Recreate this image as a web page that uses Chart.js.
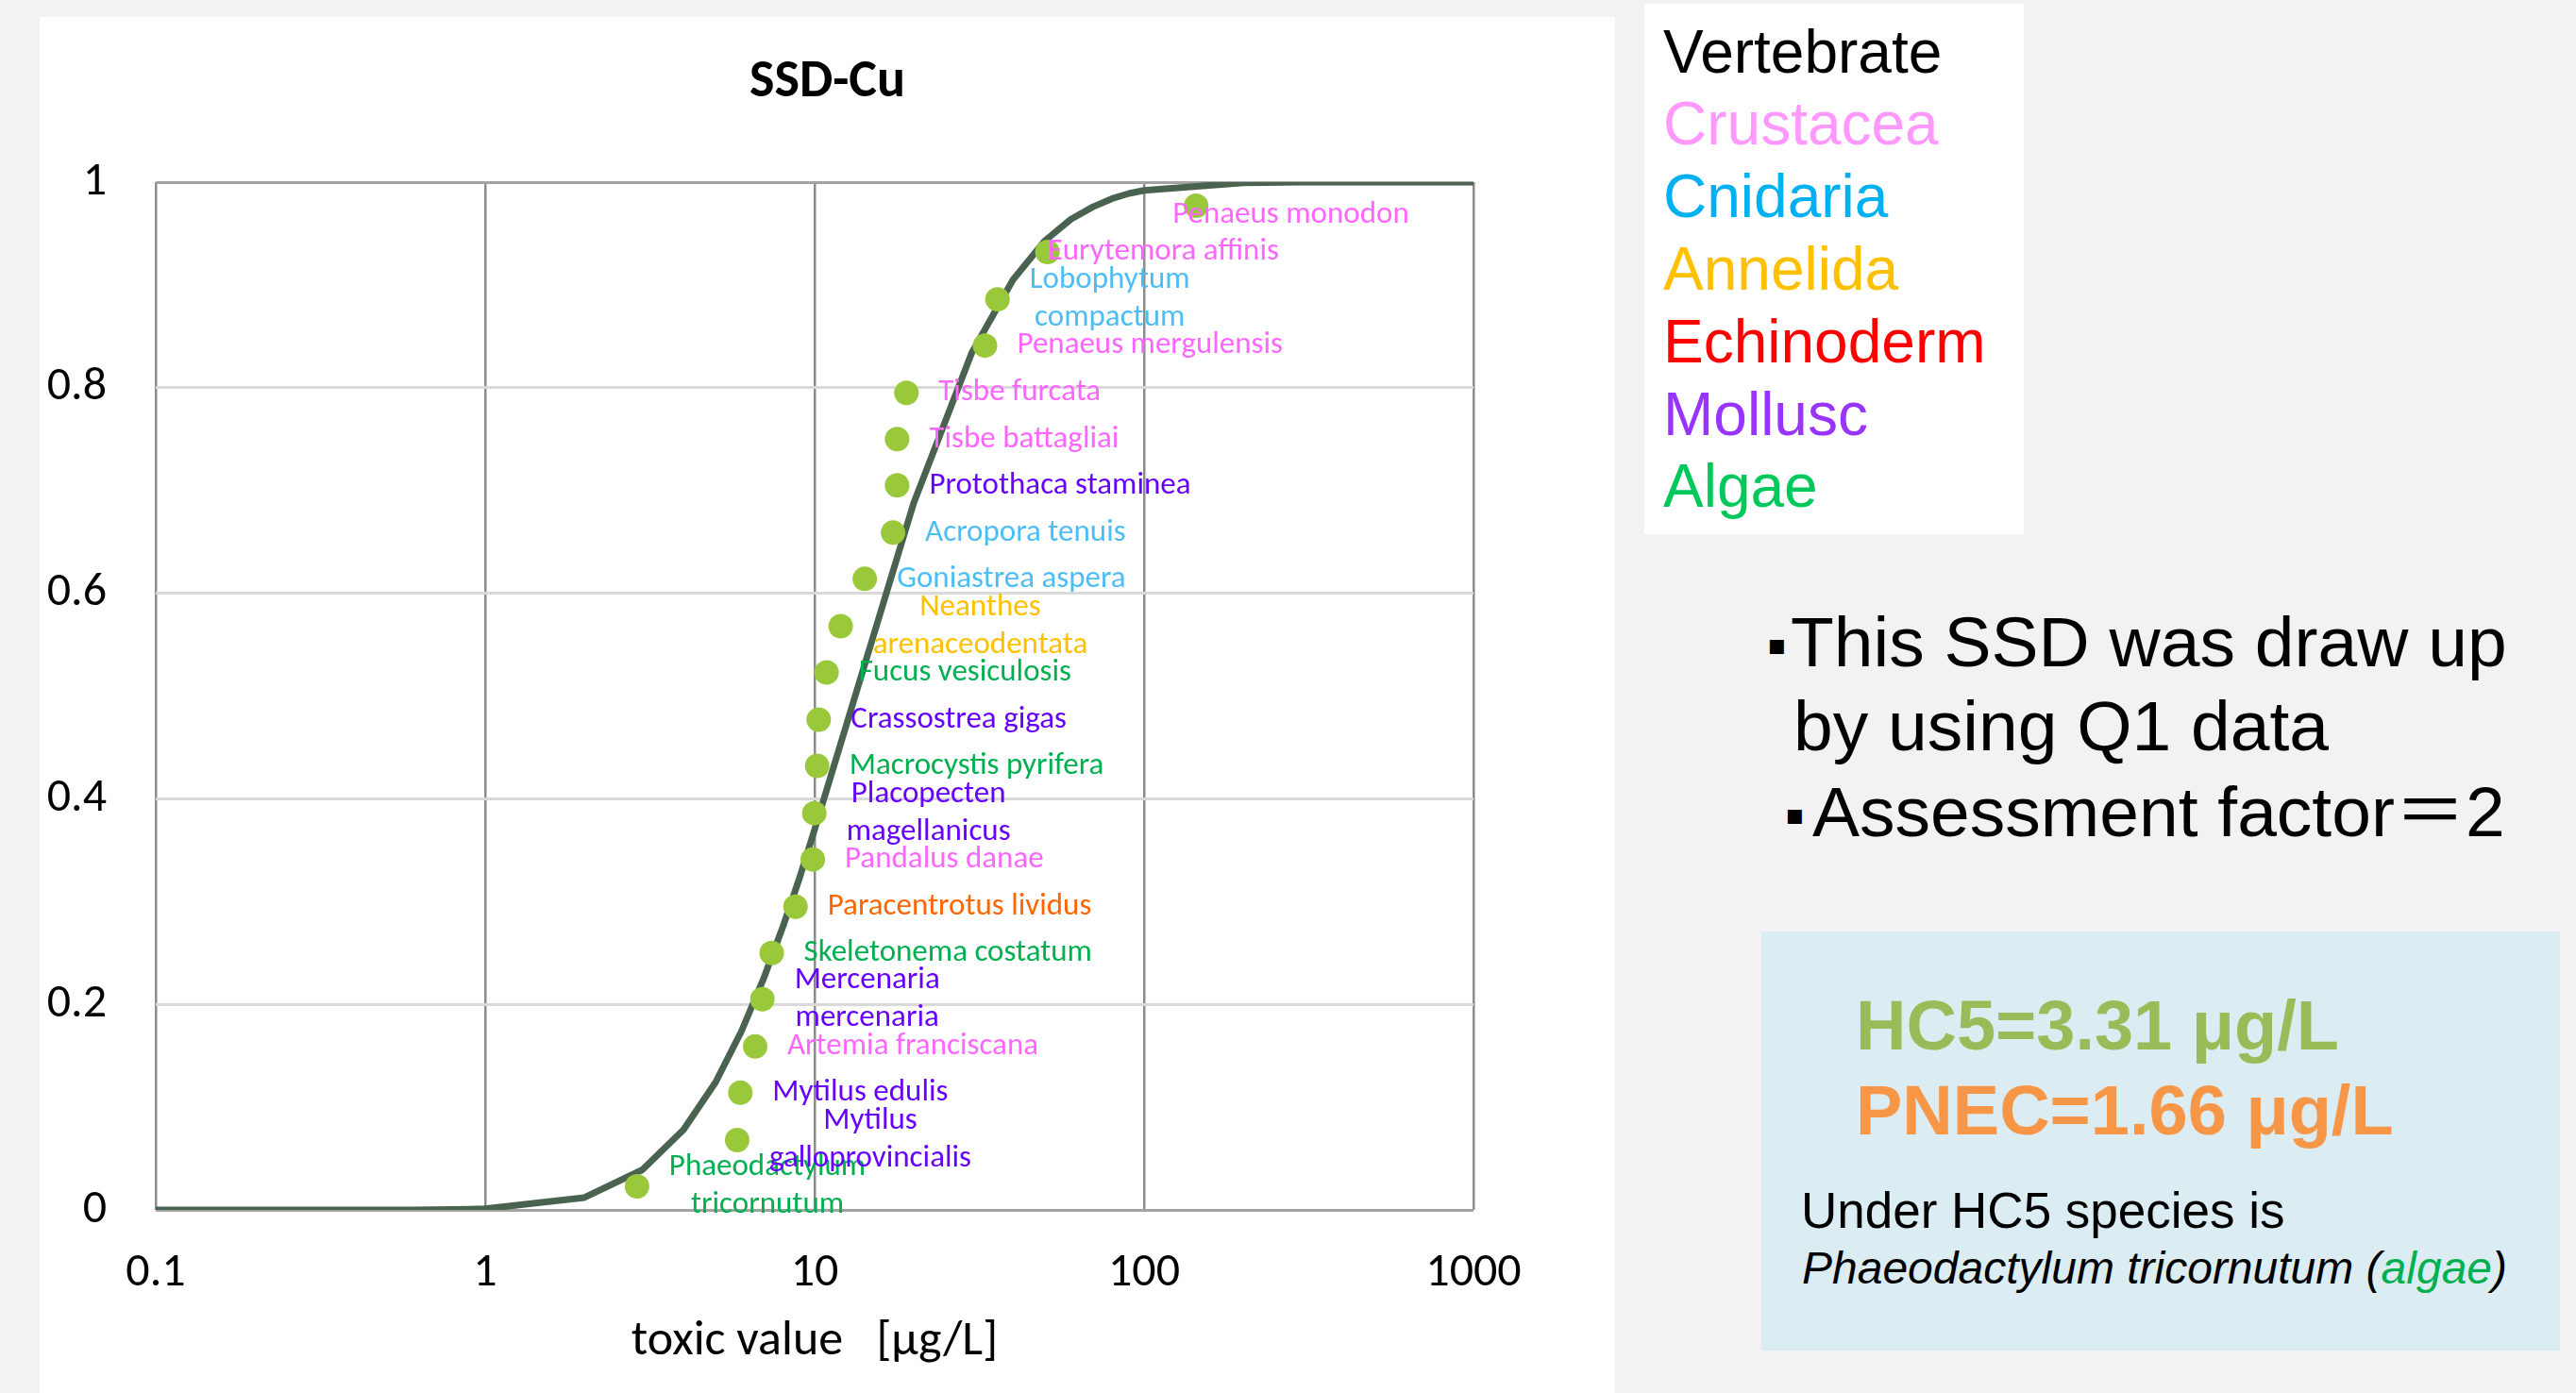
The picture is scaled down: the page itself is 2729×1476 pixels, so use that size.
<!DOCTYPE html>
<html>
<head>
<meta charset="utf-8">
<title>SSD-Cu</title>
<script src="https://cdn.jsdelivr.net/npm/chart.js@4"></script>
<style>
  html, body { margin: 0; padding: 0; }
  body { width: 2729px; height: 1476px; background: #f2f2f2; position: relative; overflow: hidden;
         font-family: "Liberation Sans", Arial, sans-serif; }
  #chartBox { position: absolute; left: 42px; top: 18px; width: 1669px; height: 1458px; background: #fff; }
  #legendBox { position: absolute; left: 1742px; top: 4px; width: 402px; height: 562px; background: #fff; }
  .leg { position: absolute; left: 20px; font-size: 64px; line-height: 1; white-space: nowrap; }
  .note { position: absolute; font-size: 75px; line-height: 1; white-space: nowrap; color: #000; }
  .bullet { position: absolute; font-family: "DejaVu Sans", sans-serif; font-size: 30px; line-height: 1; color: #000; }
  .wide { font-family: "Noto Sans CJK JP", sans-serif; line-height: 0; }
  #resultBox { position: absolute; left: 1866px; top: 987px; width: 846px; height: 444px; background: #dbedf3; }
  .res { position: absolute; line-height: 1; white-space: nowrap; }
</style>
</head>
<body>
<div id="chartBox"><canvas id="ssdChart"></canvas></div>

<div id="legendBox">
  <div class="leg" style="top:18.5px;color:#000000">Vertebrate</div>
  <div class="leg" style="top:95.3px;color:#ff99ff">Crustacea</div>
  <div class="leg" style="top:172.1px;color:#00b0f0">Cnidaria</div>
  <div class="leg" style="top:248.9px;color:#ffc000">Annelida</div>
  <div class="leg" style="top:325.7px;color:#ff0000">Echinoderm</div>
  <div class="leg" style="top:402.5px;color:#9933ff">Mollusc</div>
  <div class="leg" style="top:479.3px;color:#00c85a">Algae</div>
</div>

<div class="bullet" style="left:1872px;top:668px">▪</div>
<div class="note" style="left:1897px;top:642.5px">This SSD was draw up</div>
<div class="note" style="left:1900px;top:732px">by using Q1 data</div>
<div class="bullet" style="left:1891px;top:848px">▪</div>
<div class="note" style="left:1920px;top:822.5px">Assessment factor<span class="wide">＝</span>2</div>

<div id="resultBox"></div>
<div class="res" style="left:1966px;top:1050px;font-size:74px;font-weight:bold;color:#9bbb59">HC5=3.31 μg/L</div>
<div class="res" style="left:1966px;top:1140px;font-size:74px;font-weight:bold;color:#f79646">PNEC=1.66 μg/L</div>
<div class="res" style="left:1908px;top:1256px;font-size:53px;color:#000">Under HC5 species is</div>
<div class="res" style="left:1909px;top:1320px;font-size:48px;font-style:italic;color:#000">Phaeodactylum tricornutum (<span style="color:#00b050">algae</span>)</div>

<script>
// species toxic values, lowest first
const speciesNames = ['Phaeodactylum tricornutum', 'Mytilus galloprovincialis', 'Mytilus edulis',
  'Artemia franciscana', 'Mercenaria mercenaria', 'Skeletonema costatum', 'Paracentrotus lividus',
  'Pandalus danae', 'Placopecten magellanicus', 'Macrocystis pyrifera', 'Crassostrea gigas',
  'Fucus vesiculosis', 'Neanthes arenaceodentata', 'Goniastrea aspera', 'Acropora tenuis',
  'Protothaca staminea', 'Tisbe battagliai', 'Tisbe furcata', 'Penaeus mergulensis',
  'Lobophytum compactum', 'Eurytemora affinis', 'Penaeus monodon'];
const speciesGroup = ['Algae', 'Mollusc', 'Mollusc', 'Crustacea', 'Mollusc', 'Algae', 'Echinoderm',
  'Crustacea', 'Mollusc', 'Algae', 'Mollusc', 'Algae', 'Annelida', 'Cnidaria', 'Cnidaria',
  'Mollusc', 'Crustacea', 'Crustacea', 'Crustacea', 'Cnidaria', 'Crustacea', 'Crustacea'];
const toxicValue = [2.89, 5.82, 5.95, 6.6, 6.94, 7.41, 8.75, 9.87, 9.98, 10.18, 10.29, 10.87, 12.0,
  14.2, 17.3, 17.8, 17.8, 19.0, 32.9, 35.9, 50.9, 143.9];
const cumFraction = [0.023, 0.068, 0.114, 0.159, 0.205, 0.25, 0.295, 0.341, 0.386, 0.432, 0.477,
  0.523, 0.568, 0.614, 0.659, 0.705, 0.75, 0.795, 0.841, 0.886, 0.932, 0.977];

// fitted SSD curve
const curveX = [0.1, 0.2, 0.3, 0.4, 0.5, 0.6, 0.7, 0.8, 0.9, 1, 2, 3, 4, 5, 6, 7, 8, 9, 10,
  20, 30, 40, 50, 60, 70, 80, 90, 100, 200, 300, 400, 500, 600, 700, 800, 900, 1000];
const curveY = [0, 0, 0, 0, 0, 0.0001, 0.0002, 0.0004, 0.0007, 0.0011, 0.012, 0.039, 0.078, 0.124,
  0.174, 0.225, 0.275, 0.323, 0.37, 0.688, 0.834, 0.905, 0.943, 0.964, 0.976, 0.984, 0.989, 0.992,
  0.9994, 0.9999, 1, 1, 1, 1, 1, 1, 1];

const xTickVals = [0.1, 1, 10, 100, 1000];
const xTickLabels = ['0.1', '1', '10', '100', '1000'];
const yTickLabels = ['0', '0.2', '0.4', '0.6', '0.8', '1'];

const groupColor = {
  Crustacea: '#ff66ff', Cnidaria: '#4dbdf5', Annelida: '#ffc000', Echinoderm: '#ff6600',
  Mollusc: '#6600ff', Algae: '#00b050', Vertebrate: '#000000'
};
// labels Excel wrapped onto two lines
const wrappedNames = ['Phaeodactylum tricornutum', 'Mytilus galloprovincialis', 'Mercenaria mercenaria',
  'Placopecten magellanicus', 'Neanthes arenaceodentata', 'Lobophytum compactum'];
// hand-moved labels: [dx, dy] from the point
const labelShift = { 'Penaeus monodon': [-25, 10], 'Eurytemora affinis': [0, 0] };

const chartFont = 'Carlito, Lato, sans-serif';

const speciesLabels = {
  id: 'speciesLabels',
  afterDatasetsDraw(chart) {
    const meta = chart.getDatasetMeta(0);
    const ctx = chart.ctx;
    ctx.save();
    ctx.font = '33px ' + chartFont;
    ctx.textAlign = 'center';
    ctx.textBaseline = 'middle';
    meta.data.forEach((pt, i) => {
      const name = speciesNames[i];
      let lines = [name];
      if (wrappedNames.includes(name)) {
        const cut = name.indexOf(' ');
        lines = [name.slice(0, cut), name.slice(cut + 1)];
      }
      const w = Math.max(...lines.map(l => ctx.measureText(l).width));
      const sh = labelShift[name] || [34, 0];
      const cx = pt.x + sh[0] + w / 2;
      const cy = pt.y + sh[1];
      ctx.fillStyle = groupColor[speciesGroup[i]];
      lines.forEach((l, k) => ctx.fillText(l, cx, cy + (k - (lines.length - 1) / 2) * 40));
    });
    ctx.restore();
  }
};

const ctx = document.getElementById('ssdChart').getContext('2d');
new Chart(ctx, {
  type: 'scatter',
  data: {
    datasets: [{
      label: 'species',
      data: toxicValue.map((v, i) => ({ x: v, y: cumFraction[i] })),
      pointRadius: 13,
      pointHoverRadius: 13,
      pointBackgroundColor: '#99c83b',
      pointBorderWidth: 0,
      order: 0
    }, {
      label: 'SSD',
      data: curveX.map((v, i) => ({ x: v, y: curveY[i] })),
      showLine: true,
      borderColor: '#4a6351',
      borderWidth: 7,
      borderJoinStyle: 'round',
      pointRadius: 0,
      fill: false,
      order: 1
    }]
  },
  options: {
    responsive: true,
    maintainAspectRatio: false,
    devicePixelRatio: 1,
    animation: false,
    layout: { padding: 0 },
    plugins: {
      legend: { display: false },
      tooltip: { enabled: false },
      title: {
        display: true,
        text: 'SSD-Cu',
        color: '#000',
        font: { family: chartFont, size: 56, weight: 'bold' },
        padding: { top: 36, bottom: 71.8 }
      }
    },
    scales: {
      x: {
        type: 'logarithmic',
        min: 0.1,
        max: 1000,
        afterBuildTicks: axis => { axis.ticks = xTickVals.map(v => ({ value: v })); },
        afterFit: axis => { axis.height = 194; },
        ticks: {
          autoSkip: false,
          maxRotation: 0,
          padding: 37,
          color: '#000',
          font: { family: chartFont, size: 50 },
          callback: (v, i) => xTickLabels[i]
        },
        grid: { color: '#8c8c8c', lineWidth: 2.5, drawTicks: false },
        border: { display: false },
        title: {
          display: true,
          text: 'toxic value   [μg/L]',
          color: '#000',
          font: { family: chartFont, size: 52 },
          padding: { top: 0, bottom: 23 }
        }
      },
      y: {
        min: 0,
        max: 1,
        afterFit: axis => { axis.width = 123; },
        ticks: {
          stepSize: 0.2,
          padding: 52,
          color: '#000',
          font: { family: chartFont, size: 50 },
          callback: (v, i) => yTickLabels[i]
        },
        grid: {
          color: c => (c.tick && (c.tick.value === 0 || c.tick.value === 1)) ? '#a3a3a3' : '#d9d9d9',
          lineWidth: 3,
          drawTicks: false
        },
        border: { display: false }
      },
      // empty right-hand axis: reserves the margin right of the plot, so the title stays centred on the panel
      yRight: {
        position: 'right',
        min: 0,
        max: 1,
        afterFit: axis => { axis.width = 150; },
        ticks: { display: false },
        grid: { display: false, drawTicks: false },
        border: { display: false }
      }
    }
  },
  plugins: [speciesLabels]
});
</script>
</body>
</html>
